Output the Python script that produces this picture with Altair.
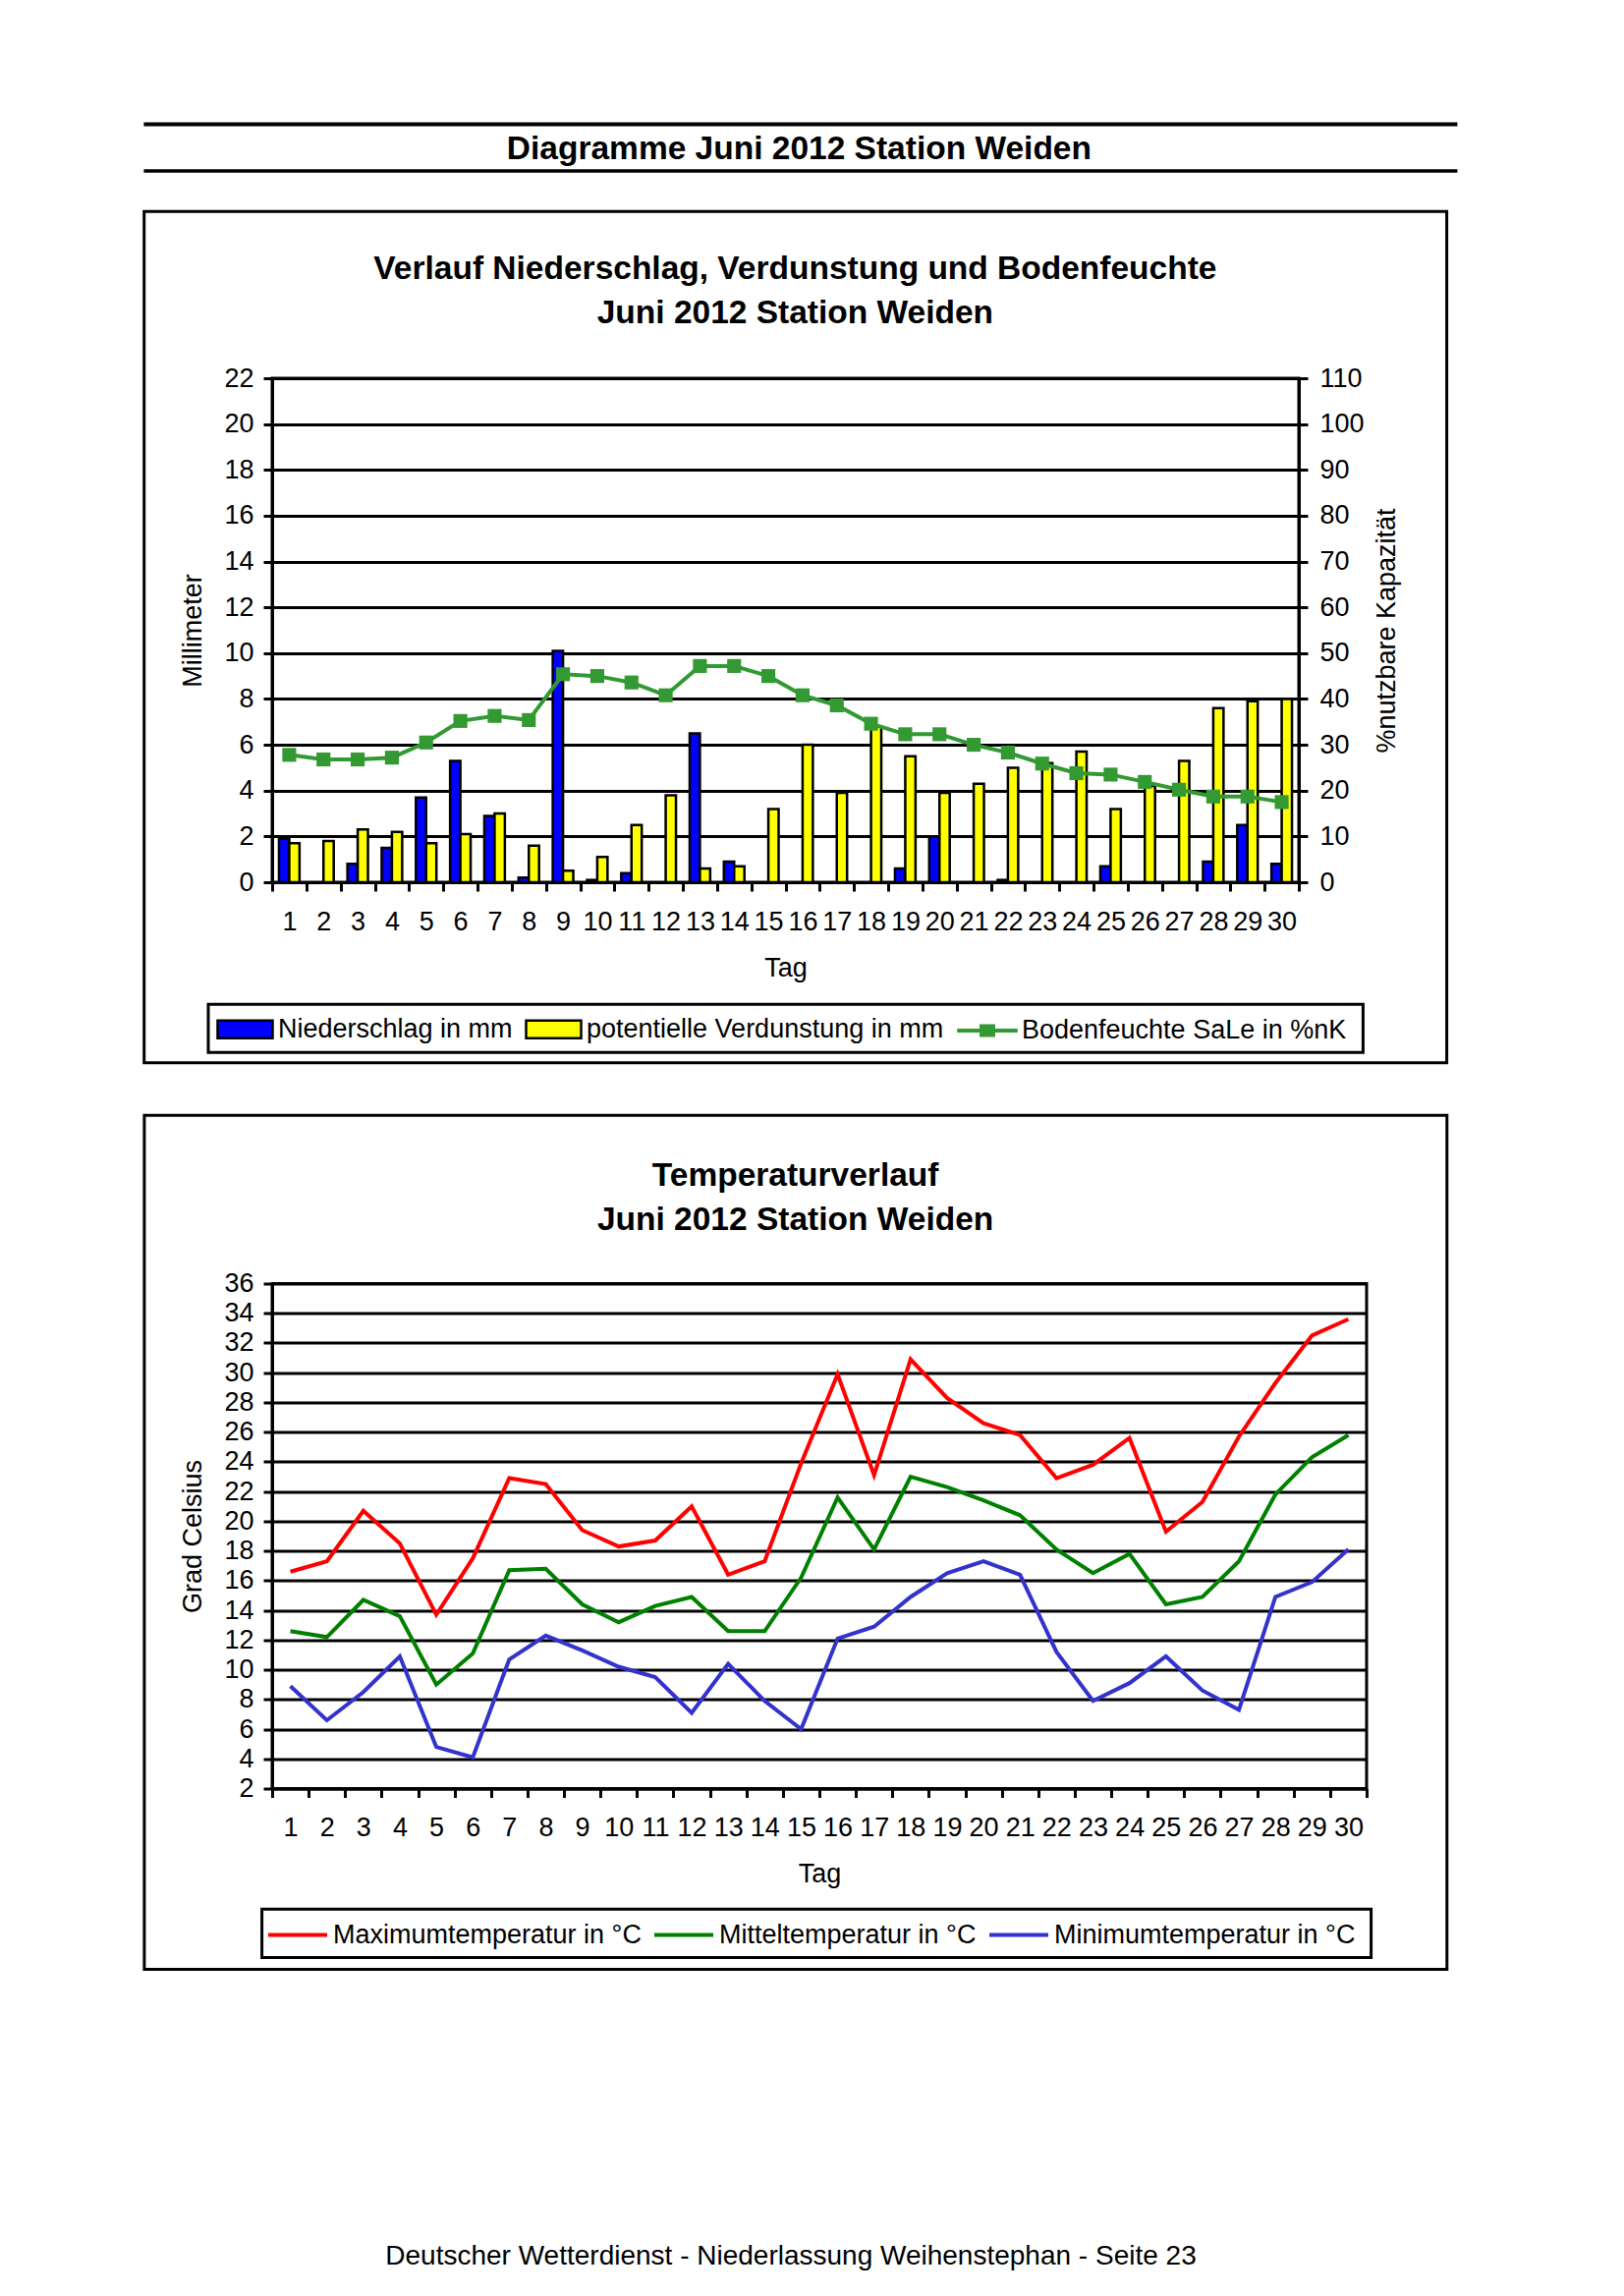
import altair as alt
import pandas as pd

FONT = "Liberation Sans"

# ---------------- data ----------------
days = list(range(1, 31))
niederschlag = [1.9, 0.0, 0.8, 1.5, 3.7, 5.3, 2.9, 0.2, 10.1, 0.1,
                0.4, 0.0, 6.5, 0.9, 0.0, 0.0, 0.0, 0.0, 0.6, 2.0,
                0.0, 0.1, 0.0, 0.0, 0.7, 0.0, 0.0, 0.9, 2.5, 0.8]
verdunstung = [1.7, 1.8, 2.3, 2.2, 1.7, 2.1, 3.0, 1.6, 0.5, 1.1,
               2.5, 3.8, 0.6, 0.7, 3.2, 6.0, 3.9, 6.8, 5.5, 3.9,
               4.3, 5.0, 5.2, 5.7, 3.2, 4.2, 5.3, 7.6, 7.9, 8.0]
bodenfeuchte = [27.8, 26.8, 26.8, 27.2, 30.5, 35.2, 36.3, 35.4, 45.4, 45.0,
                43.6, 40.8, 47.2, 47.2, 45.0, 40.8, 38.6, 34.6, 32.3, 32.3,
                30.0, 28.3, 25.9, 23.8, 23.5, 21.9, 20.2, 18.7, 18.7, 17.5]
t_max = [16.6, 17.3, 20.7, 18.5, 13.7, 17.5, 22.9, 22.5, 19.4, 18.3,
         18.7, 21.0, 16.4, 17.3, 23.9, 29.9, 23.1, 30.9, 28.3, 26.6,
         25.8, 22.9, 23.8, 25.6, 19.3, 21.3, 25.7, 29.3, 32.5, 33.6]
t_mittel = [12.6, 12.2, 14.7, 13.6, 9.0, 11.1, 16.7, 16.8, 14.4, 13.2,
            14.3, 14.9, 12.6, 12.6, 16.2, 21.6, 18.1, 23.0, 22.3, 21.4,
            20.4, 18.1, 16.5, 17.8, 14.4, 14.9, 17.3, 21.8, 24.3, 25.8]
t_min = [8.9, 6.6, 8.5, 10.9, 4.8, 4.1, 10.7, 12.3, 11.3, 10.2,
         9.5, 7.1, 10.4, 7.9, 6.0, 12.1, 12.9, 14.9, 16.5, 17.3,
         16.4, 11.2, 7.9, 9.1, 10.9, 8.6, 7.3, 14.9, 15.9, 18.1]

tick_mm = list(range(0, 23, 2))
tick_pct = list(range(0, 111, 10))
tick_temp = list(range(2, 37, 2))

S_N = "Niederschlag in mm"
S_V = "potentielle Verdunstung in mm"
S_B = "Bodenfeuchte SaLe in %nK"
S_MAX = "Maximumtemperatur in °C"
S_MIT = "Mitteltemperatur in °C"
S_MIN = "Minimumtemperatur in °C"

HEADER = "Diagramme Juni 2012 Station Weiden"
TITLE1 = "Verlauf Niederschlag, Verdunstung und Bodenfeuchte"
TITLE2 = "Temperaturverlauf"
SUB = "Juni 2012 Station Weiden"
FOOTER = "Deutscher Wetterdienst - Niederlassung Weihenstephan - Seite 23"

bars_df = pd.DataFrame({
    "Tag": days * 2,
    "Reihe": [S_N] * 30 + [S_V] * 30,
    "Wert": niederschlag + verdunstung,
})
bars_df = bars_df[bars_df["Wert"] > 0]
bf_df = pd.DataFrame({"Tag": days, "Reihe": S_B, "Wert": bodenfeuchte})
temp_df = pd.DataFrame({
    "Tag": days * 3,
    "Reihe": [S_MAX] * 30 + [S_MIT] * 30 + [S_MIN] * 30,
    "Wert": t_max + t_mittel + t_min,
})
one = pd.DataFrame({"k": [0]})

# ---------------- helpers for decoration ----------------
def box(x1, x2, y1, y2, sw=3):
    return alt.Chart(one).mark_rect(fillOpacity=0, stroke="black", strokeWidth=sw).encode(
        x=alt.value(x1), x2=alt.value(x2), y=alt.value(y1), y2=alt.value(y2))


def hline(x1, x2, y, sw):
    return alt.Chart(one).mark_rule(color="black", strokeWidth=sw).encode(
        x=alt.value(x1), x2=alt.value(x2), y=alt.value(y))


def label(txt, x, y, size, bold=False):
    return alt.Chart(one).mark_text(
        text=txt, font=FONT, fontSize=size, fontWeight="bold" if bold else "normal",
        align="center", baseline="middle", color="black").encode(x=alt.value(x), y=alt.value(y))


def x_enc(W):
    return alt.X("Tag:O",
                 scale=alt.Scale(type="band", domain=days, paddingInner=0, paddingOuter=0),
                 axis=alt.Axis(title="Tag", labelAngle=0, tickBand="extent", tickSize=9,
                               labelPadding=18, grid=False, titleX=W / 2, titleY=87,
                               titleAlign="center", titleBaseline="middle"))


LEG_COMMON = dict(title=None, orient="none", direction="horizontal", padding=0,
                  labelFont=FONT, labelFontSize=27, labelColor="black", labelLimit=1000,
                  symbolOpacity=1)

# ---------------- chart 1 ----------------
W1, H1 = 1045, 513
X1 = x_enc(W1)

PATH_A = "M-1,-0.32L1,-0.32L1,0.32L-1,0.32Z"
legA = alt.Legend(legendX=-57, legendY=633, symbolType=PATH_A, symbolSize=3136,
                  symbolStrokeColor="black", symbolStrokeWidth=2.5, labelOffset=4,
                  columnPadding=8, **LEG_COMMON)

PATH_B = ("M-1,0L1,0M-0.26,-0.15L0.26,-0.15M-0.26,-0.05L0.26,-0.05"
          "M-0.26,0.05L0.26,0.05M-0.26,0.15L0.26,0.15")
legB = alt.Legend(legendX=695, legendY=631, symbolType=PATH_B, symbolSize=3794,
                  symbolStrokeWidth=4, labelOffset=2, **LEG_COMMON)

bars = alt.Chart(bars_df).mark_bar(stroke="black", strokeWidth=2.5, opacity=1).encode(
    x=X1,
    xOffset=alt.XOffset("Reihe:N", scale=alt.Scale(domain=[S_N, S_V], paddingInner=0,
                                                   paddingOuter=0.667)),
    y=alt.Y("Wert:Q", scale=alt.Scale(domain=[0, 22], nice=False),
            axis=alt.Axis(orient="left", values=tick_mm, format="d", grid=True, tickSize=9,
                          labelPadding=10, title="Millimeter", titleX=-80.6, titleY=H1 / 2,
                          titleAngle=270, titleAlign="center", titleBaseline="middle")),
    color=alt.Color("Reihe:N", scale=alt.Scale(domain=[S_N, S_V], range=["#0000FF", "#FFFF00"]),
                    legend=legA),
)

bf_line = alt.Chart(bf_df).mark_line(
    strokeWidth=4,
    point=alt.OverlayMarkDef(shape="square", filled=True, size=200, opacity=1),
).encode(
    x=X1,
    y=alt.Y("Wert:Q", scale=alt.Scale(domain=[0, 110], nice=False),
            axis=alt.Axis(orient="right", values=tick_pct, format="d", grid=False, tickSize=9,
                          labelPadding=12, title="%nutzbare Kapazität", titleX=89.6,
                          titleY=H1 / 2, titleAngle=270, titleAlign="center",
                          titleBaseline="middle")),
    color=alt.Color("Reihe:N", scale=alt.Scale(domain=[S_B], range=["#339933"]), legend=legB),
)

chart1 = alt.layer(
    box(-130.3, 1195.6, -169.7, 696.8),
    hline(-130.6, 1206.4, -258.4, 4),
    hline(-130.6, 1206.4, -211, 3.5),
    label(HEADER, 536.4, -233, 33.5, True),
    label(TITLE1, 532.4, -111, 33.5, True),
    label(SUB, 532.4, -66, 33.5, True),
    bars,
    bf_line,
    box(-65, 1110.4, 637.3, 686.3),
).resolve_scale(y="independent", color="independent").properties(width=W1, height=H1)

# ---------------- chart 2 ----------------
W2, H2 = 1114, 514
X2 = x_enc(W2)

legT = alt.Legend(legendX=-6, legendY=631, symbolType="stroke", symbolSize=3600,
                  symbolStrokeWidth=4, labelOffset=4, columnPadding=5, **LEG_COMMON)

temp = alt.Chart(temp_df).mark_line(strokeWidth=4).encode(
    x=X2,
    y=alt.Y("Wert:Q", scale=alt.Scale(domain=[2, 36], nice=False, zero=False),
            axis=alt.Axis(orient="left", values=tick_temp, format="d", grid=True, tickSize=9,
                          labelPadding=10, title="Grad Celsius", titleX=-80.4, titleY=H2 / 2,
                          titleAngle=270, titleAlign="center", titleBaseline="middle")),
    color=alt.Color("Reihe:N",
                    scale=alt.Scale(domain=[S_MAX, S_MIT, S_MIN],
                                    range=["#FF0000", "#008000", "#3333CC"]),
                    legend=legT),
)

chart2 = alt.layer(
    box(-130.1, 1195.8, -171.2, 697.9),
    label(TITLE2, 532.6, -110, 33.5, True),
    label(SUB, 532.6, -65, 33.5, True),
    temp,
    box(-10.4, 1118.6, 636.7, 686),
    label(FOOTER, 528, 990.5, 28),
).properties(width=W2, height=H2)

chart = alt.vconcat(chart1, chart2, spacing=46.5).resolve_scale(
    color="independent"
).properties(
    padding={"left": 134, "top": 115, "right": 5, "bottom": 5}
).configure(
    font=FONT, background="white"
).configure_view(
    stroke="black", strokeWidth=3
).configure_axis(
    domainColor="black", domainWidth=3, tickColor="black", tickWidth=3,
    labelColor="black", labelFont=FONT, labelFontSize=27,
    titleColor="black", titleFont=FONT, titleFontSize=27, titleFontWeight="normal",
    gridColor="black", gridWidth=3, gridOpacity=1,
)

chart.save("out.html", embed_options={"renderer": "svg", "actions": False})
